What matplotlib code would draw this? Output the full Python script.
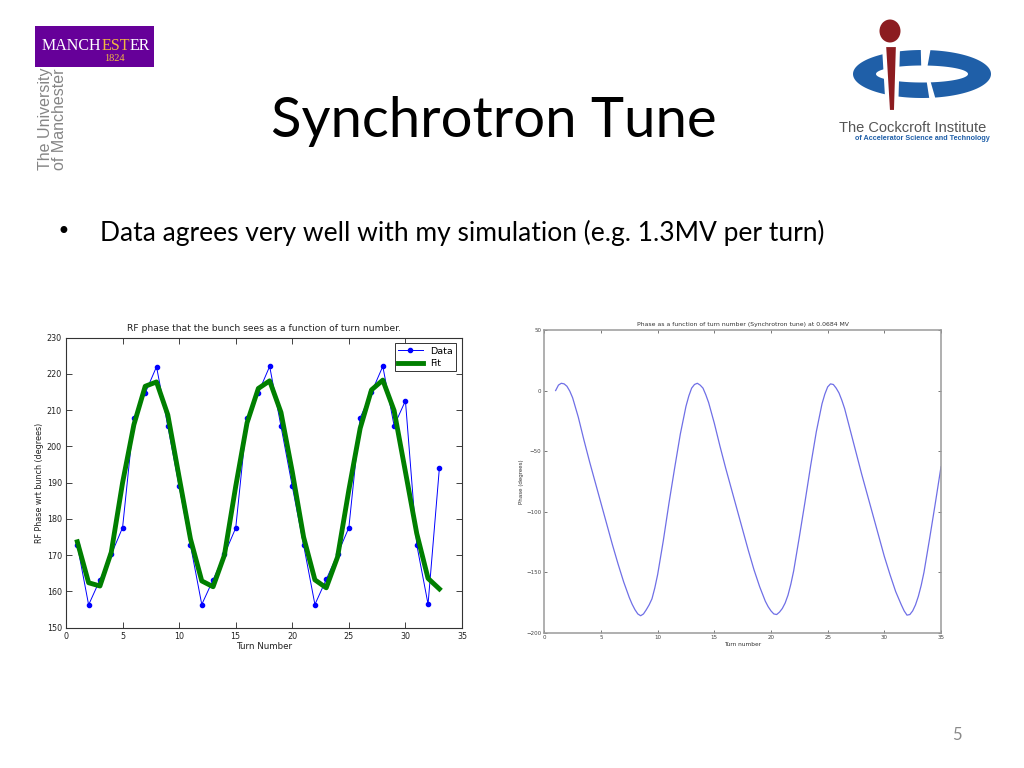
import numpy as np
import matplotlib
matplotlib.use("Agg")
import matplotlib.pyplot as plt
from matplotlib.patches import Rectangle, Ellipse, Polygon

# ── Left chart: measured RF phase and fit, per turn ──────────────────────────
turns = list(range(1, 34))
data_phase = [172.8, 156.3, 163.2, 170.2, 177.6, 207.8, 214.7, 222.0, 205.6, 189.0,
              172.8, 156.4, 163.2, 170.2, 177.5, 207.8, 214.8, 222.1, 205.6, 189.0,
              172.8, 156.4, 163.3, 170.3, 177.6, 207.9, 214.9, 222.1, 205.7, 212.6,
              172.9, 156.5, 194.0]
fit_phase = [173.7, 162.4, 161.5, 170.8, 190.0, 206.0, 216.6, 217.8, 208.7, 191.5,
             174.5, 162.9, 161.3, 170.0, 189.0, 206.5, 216.0, 218.1, 209.4, 193.0,
             175.0, 163.2, 161.0, 169.5, 188.0, 205.0, 215.6, 218.3, 209.9, 193.0,
             176.0, 163.6, 160.7]

# ── Right chart: simulated phase (denser near extrema) ────
sim_turn = [1.0, 1.25, 1.5, 1.75, 2.0, 2.25, 2.5, 3.0, 3.5, 4.0,
            4.5, 5.0, 5.5, 6.0, 6.5, 7.0, 7.5, 7.75, 8.0, 8.25,
            8.5, 8.75, 9.0, 9.25, 9.5, 9.75, 10.0, 10.5, 11.0, 11.5,
            12.0, 12.5, 12.75, 13.0, 13.25, 13.5, 13.75, 14.0, 14.25, 14.5,
            15.0, 15.5, 16.0, 16.5, 17.0, 17.5, 18.0, 18.5, 19.0, 19.5,
            19.75, 20.0, 20.25, 20.5, 20.75, 21.0, 21.25, 21.5, 21.75, 22.0,
            22.5, 23.0, 23.5, 24.0, 24.5, 24.75, 25.0, 25.25, 25.5, 25.75,
            26.0, 26.25, 26.5, 27.0, 27.5, 28.0, 28.5, 29.0, 29.5, 30.0,
            30.5, 31.0, 31.5, 31.75, 32.0, 32.25, 32.5, 32.75, 33.0, 33.25,
            33.5, 34.0, 34.5, 35.0]
sim_phase = [0, 4.5, 6, 5.5, 3.5, -0.5, -6, -22, -41, -59,
             -76, -93, -110, -127, -143, -158, -171, -176.5, -181, -184.5,
             -186, -184.5, -181, -177, -172, -163, -152, -124, -93, -64,
             -36, -13, -4.5, 2, 5, 6, 4.5, 2, -3.5, -10,
             -27, -46, -64, -81, -98, -115, -132, -148, -162, -174,
             -178.5, -182, -184.5, -185, -183, -180, -175.5, -169, -160, -149,
             -121, -92, -62, -34, -11, -3, 3, 5.5, 5, 2,
             -2, -8, -15, -33, -51, -69, -86, -103, -120, -137,
             -152, -166, -177, -182, -185.5, -185, -182, -177, -170, -161,
             -150, -122, -93, -63]

LEFT_YTICKS = [150, 160, 170, 180, 190, 200, 210, 220, 230]
RIGHT_YTICKS = [-200, -150, -100, -50, 0, 50]
XTICKS = [0, 5, 10, 15, 20, 25, 30, 35]

PURPLE = "#660099"
GOLD = "#f0b840"
CI_BLUE = "#1f5fa8"
CI_RED = "#8c1c20"
SLIDE_FONT = ["Lato", "DejaVu Sans"]

fig = plt.figure(figsize=(10.24, 7.68), dpi=100, facecolor="white")

# ── Slide background in pixel coordinates ────────────────────────────────────
bg = fig.add_axes([0, 0, 1, 1], zorder=0)
bg.set_xlim(0, 1024); bg.set_ylim(768, 0); bg.axis("off")
renderer = fig.canvas.get_renderer()

# Manchester logo
bg.add_patch(Rectangle((35, 26), 119, 41, fc=PURPLE, ec="none"))
x = 41.5
for part, col in [("MANCH", "white"), ("EST", GOLD), ("ER", "white")]:
    t = bg.text(x, 50, part, color=col, fontsize=11.5, family="Liberation Serif",
                ha="left", va="baseline")
    x += t.get_window_extent(renderer=renderer).width
bg.text(114, 61, "1824", color=GOLD, fontsize=7.5, family="Liberation Serif",
        ha="center", va="baseline")
bg.text(38, 68, "The University\nof Manchester", rotation=90, ha="left", va="top",
        color="#858585", fontsize=11.5, family="Liberation Sans", linespacing=0.95)

# Cockcroft Institute logo
def ring_piece(t0, t1, cx=922, cy=74, ao=69, bo=24, ai=46, bi=8.5):
    t = np.radians(np.linspace(t0, t1, 80))
    outer = np.column_stack([cx + ao*np.cos(t), cy - bo*np.sin(t)])
    inner = np.column_stack([cx + ai*np.cos(t[::-1]), cy - bi*np.sin(t[::-1])])
    return Polygon(np.vstack([outer, inner]), closed=True, fc=CI_BLUE, ec="none")

bg.add_patch(ring_piece(91, 276))
bg.add_patch(ring_piece(-79, 83))
bg.add_patch(Polygon([(884, 45), (898, 45), (896, 112), (888, 112)], closed=True,
                     fc=CI_RED, ec="white", lw=3, zorder=3))
bg.add_patch(Ellipse((890, 31), 21, 23, fc=CI_RED, ec="none", zorder=3))
bg.text(912.5, 132, "The Cockcroft Institute", ha="center", va="baseline",
        fontsize=10.5, color="#555555", family="Liberation Sans")
bg.text(922.5, 140, "of Accelerator Science and Technology", ha="center",
        va="baseline", fontsize=5.2, color=CI_BLUE, fontweight="bold",
        family="Liberation Sans")

# Title, bullet, page number
bg.text(494, 137, "Synchrotron Tune", ha="center", va="baseline",
        fontsize=40.5, color="black", family=SLIDE_FONT)
bg.text(63, 232, "\u2022", ha="center", va="center", fontsize=17,
        family=["DejaVu Sans"])
bg.text(100, 241, "Data agrees very well with my simulation (e.g. 1.3MV per turn)",
        ha="left", va="baseline", fontsize=19, family=SLIDE_FONT)
bg.text(957, 740, "5", ha="center", va="baseline", fontsize=12,
        color="#8a8a8a", family=SLIDE_FONT)

# ── Left chart ───────────────────────────────────────────────────────────────
ax1 = fig.add_axes([66/1024, (768-627.7)/768, 396/1024, 290/768], zorder=2)
ax1.plot(turns, data_phase, "-o", color="#0000ff", lw=0.7, ms=3, mec="#0000ff",
         label="Data")
ax1.plot(turns, fit_phase, "-", color="#007f00", lw=3.5, label="Fit")
ax1.set_xlim(0, 35); ax1.set_ylim(150, 230)
ax1.set_xticks(XTICKS); ax1.set_yticks(LEFT_YTICKS)
ax1.tick_params(direction="in", top=True, right=True, length=4, width=0.6,
                labelsize=5.8, pad=3, colors="#222222")
for sp in ax1.spines.values():
    sp.set_linewidth(0.8); sp.set_color("#333333")
ax1.set_title("RF phase that the bunch sees as a function of turn number.",
              fontsize=6.6, pad=4.5, color="#222222")
ax1.set_xlabel("Turn Number", fontsize=6.3, labelpad=0.5, color="#222222")
ax1.set_ylabel("RF Phase wrt bunch (degrees)", fontsize=5.8, labelpad=2,
               color="#222222")
leg = ax1.legend(loc="upper right", fontsize=6.8, fancybox=False, framealpha=1,
                 edgecolor="#333333", borderaxespad=0.6, handlelength=2.6,
                 borderpad=0.35, labelspacing=0.35)
leg.get_frame().set_linewidth(0.7)

# ── Right chart ──────────────────────────────────────────────────────────────
ax2 = fig.add_axes([544.3/1024, (768-632.7)/768, 396.7/1024, 302.7/768], zorder=2)
ax2.plot(sim_turn, sim_phase, "-", color="#6f6fe6", lw=0.9)
ax2.set_xlim(0, 35); ax2.set_ylim(-200, 50)
ax2.set_xticks(XTICKS); ax2.set_yticks(RIGHT_YTICKS)
ax2.tick_params(direction="in", top=True, right=True, length=2.5, width=0.5,
                labelsize=4, pad=2, colors="#444444")
for sp in ax2.spines.values():
    sp.set_linewidth(1.1); sp.set_color("#9a9a9a")
ax2.set_title("Phase as a function of turn number (Synchrotron tune) at 0.0684 MV",
              fontsize=4.4, pad=3, color="#333333")
ax2.set_xlabel("Turn number", fontsize=4.2, labelpad=1, color="#333333")
ax2.set_ylabel("Phase (degrees)", fontsize=4.0, labelpad=2, color="#333333")

fig.savefig("out.png", dpi=100, facecolor="white")
